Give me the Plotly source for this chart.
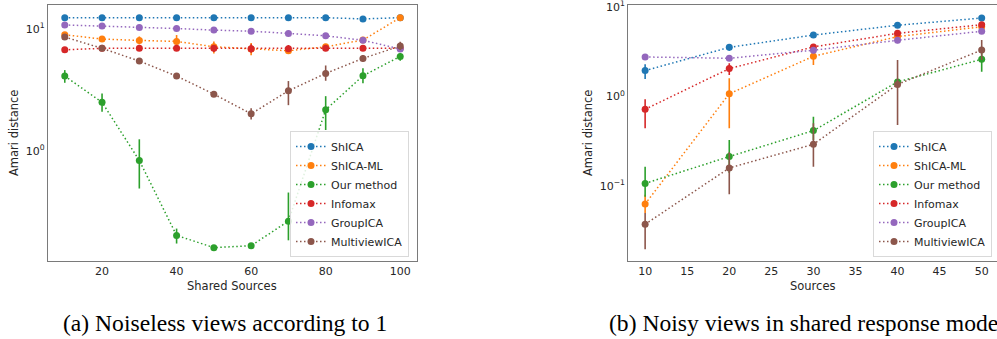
import plotly.graph_objects as go

W, H = 997, 339
# ---------------- data ----------------
methods = ["ShICA", "ShICA-ML", "Our method", "Infomax", "GroupICA", "MultiviewICA"]
colors = ["#1f77b4", "#ff7f0e", "#2ca02c", "#d62728", "#9467bd", "#8c564b"]

# (a) noiseless views
x_a = [10, 20, 30, 40, 50, 60, 70, 80, 90, 100]
shica_a = [12.4, 12.4, 12.4, 12.4, 12.4, 12.4, 12.4, 12.4, 12.1, 12.4]
shica_a_lo = [12.1, 12.1, 12.1, 12.1, 12.1, 12.1, 12.1, 12.1, 11.8, 12.1]
shica_a_hi = [12.7, 12.7, 12.7, 12.7, 12.7, 12.7, 12.7, 12.7, 12.4, 12.7]
shicaml_a = [8.98, 8.28, 8.07, 7.92, 7.16, 6.86, 6.64, 7.16, 8.13, 12.4]
shicaml_a_lo = [8.6, 7.9, 7.5, 7.16, 6.3, 6.1, 6.3, 6.9, 7.9, 12.1]
shicaml_a_hi = [9.4, 8.7, 8.7, 8.93, 7.9, 7.7, 7.0, 7.4, 8.4, 12.7]
ours_a = [4.12, 2.51, 0.838, 0.204, 0.162, 0.168, 0.267, 2.18, 4.14, 5.97]
ours_a_lo = [3.63, 2.10, 0.494, 0.175, 0.157, 0.162, 0.186, 1.49, 3.59, 5.50]
ours_a_hi = [4.61, 2.97, 1.25, 0.232, 0.168, 0.174, 0.458, 2.82, 4.77, 6.32]
infomax_a = [6.76, 6.95, 6.95, 6.95, 6.95, 6.90, 6.90, 6.95, 6.95, 6.95]
infomax_a_lo = [6.5, 6.7, 6.7, 6.7, 6.5, 6.4, 6.5, 6.6, 6.7, 6.7]
infomax_a_hi = [7.0, 7.2, 7.2, 7.2, 7.4, 7.5, 7.4, 7.3, 7.2, 7.2]
groupica_a = [10.8, 10.6, 10.3, 10.1, 9.8, 9.6, 9.2, 8.8, 8.1, 6.86]
groupica_a_lo = [10.6, 10.4, 10.1, 9.9, 9.6, 9.4, 9.0, 8.6, 7.9, 6.7]
groupica_a_hi = [11.0, 10.8, 10.5, 10.3, 10.0, 9.8, 9.4, 9.0, 8.3, 7.0]
multiview_a = [8.6, 6.95, 5.47, 4.12, 2.93, 2.02, 3.12, 4.33, 5.75, 7.26]
multiview_a_lo = [8.2, 6.7, 5.3, 3.98, 2.85, 1.82, 2.38, 3.77, 5.40, 6.73]
multiview_a_hi = [9.0, 7.2, 5.65, 4.26, 3.02, 2.24, 3.75, 5.03, 6.12, 7.87]

# (b) noisy views
x_b = [10, 20, 30, 40, 50]
shica_b = [1.94, 3.52, 4.83, 6.21, 7.48]
shica_b_lo = [1.56, 3.23, 4.6, 5.95, 7.2]
shica_b_hi = [2.28, 3.84, 5.05, 6.45, 7.75]
shicaml_b = [0.063, 1.07, 2.80, 4.64, 5.98]
shicaml_b_lo = [0.050, 0.44, 2.24, 4.3, 5.6]
shicaml_b_hi = [0.080, 1.59, 3.23, 4.95, 6.3]
ours_b = [0.107, 0.213, 0.415, 1.45, 2.59]
ours_b_lo = [0.076, 0.140, 0.327, 1.40, 1.88]
ours_b_hi = [0.164, 0.327, 0.594, 1.52, 3.44]
infomax_b = [0.718, 2.04, 3.56, 5.05, 6.30]
infomax_b_lo = [0.44, 1.73, 3.3, 4.7, 5.9]
infomax_b_hi = [0.93, 2.34, 3.8, 5.3, 6.6]
groupica_b = [2.75, 2.66, 3.27, 4.22, 5.32]
groupica_b_lo = [2.65, 2.5, 3.0, 3.9, 5.1]
groupica_b_hi = [2.85, 2.8, 3.5, 4.5, 5.5]
multiview_b = [0.0375, 0.159, 0.292, 1.36, 3.29]
multiview_b_lo = [0.0197, 0.081, 0.164, 0.48, 2.55]
multiview_b_hi = [0.050, 0.238, 0.50, 2.55, 4.26]

xticks_a = [20, 40, 60, 80, 100]
xticks_b = [10, 15, 20, 25, 30, 35, 40, 45, 50]
yticks_a = [1, 10]
yticklabels_a = ["10<sup>0</sup>", "10<sup>1</sup>"]
yticks_b = [0.1, 1, 10]
yticklabels_b = ["10<sup>\u22121</sup>", "10<sup>0</sup>", "10<sup>1</sup>"]

xlabel_a = "Shared Sources"
xlabel_b = "Sources"
ylabel = "Amari distance"
caption_a = "(a) Noiseless views according to 1"
caption_b = "(b) Noisy views in shared response model"

series_a = [(shica_a, shica_a_lo, shica_a_hi), (shicaml_a, shicaml_a_lo, shicaml_a_hi),
            (ours_a, ours_a_lo, ours_a_hi), (infomax_a, infomax_a_lo, infomax_a_hi),
            (groupica_a, groupica_a_lo, groupica_a_hi), (multiview_a, multiview_a_lo, multiview_a_hi)]
series_b = [(shica_b, shica_b_lo, shica_b_hi), (shicaml_b, shicaml_b_lo, shicaml_b_hi),
            (ours_b, ours_b_lo, ours_b_hi), (infomax_b, infomax_b_lo, infomax_b_hi),
            (groupica_b, groupica_b_lo, groupica_b_hi), (multiview_b, multiview_b_lo, multiview_b_hi)]

# ---------------- figure ----------------
TXT = "#262626"
FONT = "DejaVu Sans"
fig = go.Figure()


def add_series(xs, series, xaxis, yaxis, legend):
    for name, col, (v, lo, hi) in zip(methods, colors, series):
        fig.add_trace(go.Scatter(
            x=xs, y=v, name=name, mode="lines+markers",
            xaxis=xaxis, yaxis=yaxis, legend=legend,
            line=dict(color=col, width=1.5, dash="1.5px,2.5px"),
            marker=dict(color=col, size=7),
            error_y=dict(type="data", symmetric=False,
                         array=[h - a for h, a in zip(hi, v)],
                         arrayminus=[a - l for l, a in zip(lo, v)],
                         color=col, thickness=1.6, width=0),
        ))


add_series(x_a, series_a, "x", "y", "legend")
add_series(x_b, series_b, "x2", "y2", "legend2")

PT, PB = 5, 261  # plot area top / bottom in px
ph = PB - PT


def py(pix):
    return (PB - pix) / ph


axis_common = dict(showline=True, mirror=True, linecolor="#7a7a7a", linewidth=1.2,
                   showgrid=False, zeroline=False, ticks="", ticklabeloverflow="allow",
                   tickfont=dict(family=FONT, size=11, color=TXT))

legend_common = dict(font=dict(family=FONT, size=11, color=TXT), bgcolor="rgba(255,255,255,0.85)",
                     bordercolor="#d9d9d9", borderwidth=1, xanchor="right", yanchor="bottom",
                     tracegroupgap=0, itemwidth=30)

fig.update_layout(
    width=W, height=H,
    margin=dict(l=0, r=0, t=PT, b=H - PB, pad=0),
    paper_bgcolor="white", plot_bgcolor="white",
    xaxis=dict(domain=[48 / W, 417 / W], range=[5.5, 104.5], tickvals=xticks_a, anchor="y", **axis_common),
    yaxis=dict(type="log", range=[-0.90, 1.197], tickvals=yticks_a, ticktext=yticklabels_a,
               anchor="x", **axis_common),
    xaxis2=dict(domain=[628.3 / W, 1.0], range=[8, 51.82], tickvals=xticks_b, anchor="y2", **axis_common),
    yaxis2=dict(type="log", range=[-1.836, 1.019], tickvals=yticks_b, ticktext=yticklabels_b,
                anchor="x2", **axis_common),
    legend=dict(x=409 / W, y=py(257), **legend_common),
    legend2=dict(x=992 / W, y=py(257), **legend_common),
    showlegend=True,
)

ann = []
ann.append(dict(text=xlabel_a, x=232 / W, y=py(286), xref="paper", yref="paper", showarrow=False,
                xanchor="center", yanchor="middle", font=dict(family=FONT, size=11.5, color=TXT)))
ann.append(dict(text=xlabel_b, x=813 / W, y=py(286), xref="paper", yref="paper", showarrow=False,
                xanchor="center", yanchor="middle", font=dict(family=FONT, size=11.5, color=TXT)))
ann.append(dict(text=ylabel, x=14 / W, y=py(133), xref="paper", yref="paper", showarrow=False, textangle=-90,
                xanchor="center", yanchor="middle", font=dict(family=FONT, size=11.5, color=TXT)))
ann.append(dict(text=ylabel, x=588 / W, y=py(133), xref="paper", yref="paper", showarrow=False, textangle=-90,
                xanchor="center", yanchor="middle", font=dict(family=FONT, size=11.5, color=TXT)))
ann.append(dict(text=caption_a, x=225 / W, y=py(323), xref="paper", yref="paper", showarrow=False,
                xanchor="center", yanchor="middle", font=dict(family="Liberation Serif", size=23.6, color="black")))
ann.append(dict(text=caption_b, x=606.7 / W, y=py(323), xref="paper", yref="paper", showarrow=False,
                xanchor="left", yanchor="middle", font=dict(family="Liberation Serif", size=23.6, color="black")))
fig.update_layout(annotations=ann)

fig.write_html("out.html", config={"displayModeBar": False},
               post_script="document.body.style.margin='0';document.body.style.overflow='hidden';")
